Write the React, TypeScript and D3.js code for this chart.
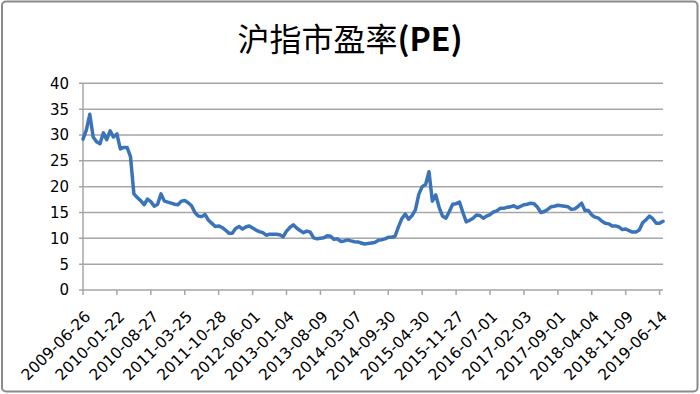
import React from "react";
import * as d3 from "d3";

const WIDTH = 700;
const HEIGHT = 394;

const title = "沪指市盈率";
const titleSuffix = "(PE)";

// weekly PE of the Shanghai index, one value every ~3 weeks
const peValues = [
  29.2, 31, 34.0, 29.6, 28.7, 28.3, 30.4, 29.1, 30.8, 29.6,
  30.2, 27.3, 27.6, 27.6, 25.8, 18.6, 17.9, 17.3, 16.5, 17.6,
  17.1, 16.2, 16.6, 18.6, 17.2, 17.0, 16.8, 16.6, 16.5, 17.2,
  17.3, 16.9, 16.3, 15.0, 14.3, 14.2, 14.6, 13.5, 12.9, 12.3,
  12.4, 12.1, 11.6, 11.0, 11.0, 11.9, 12.3, 11.8, 12.2, 12.4,
  12.0, 11.6, 11.3, 11.1, 10.6, 10.8, 10.8, 10.8, 10.7, 10.3,
  11.4, 12.1, 12.6, 12.0, 11.5, 11.1, 11.4, 11.2, 10.1, 9.9,
  10.0, 10.1, 10.5, 10.4, 9.8, 9.9, 9.4, 9.5, 9.7, 9.5,
  9.35, 9.3, 9.1, 8.9, 9.0, 9.1, 9.2, 9.6, 9.7, 9.9,
  10.2, 10.2, 10.4, 12.2, 13.8, 14.7, 13.7, 14.4, 15.5, 18.5,
  20.0, 20.4, 22.9, 17.2, 18.4, 16.0, 14.3, 13.9, 15.2, 16.6,
  16.7, 17.0, 15.0, 13.2, 13.5, 13.9, 14.5, 14.4, 13.9, 14.3,
  14.6, 15.1, 15.3, 15.8, 15.8, 16.0, 16.1, 16.3, 15.9, 16.2,
  16.5, 16.6, 16.8, 16.7, 16.0, 15.0, 15.2, 15.6, 16.1, 16.2,
  16.4, 16.3, 16.2, 16.1, 15.6, 15.7, 16.2, 16.8, 15.4, 15.4,
  14.5, 14.1, 13.9, 13.3, 12.9, 12.8, 12.4, 12.4, 12.2, 11.7,
  11.8, 11.5, 11.2, 11.2, 11.6, 13.0, 13.6, 14.3, 13.8, 12.9,
  12.9, 13.3,
];

const tickLabels = [
  "2009-06-26", "2010-01-22", "2010-08-27", "2011-03-25", "2011-10-28",
  "2012-06-01", "2013-01-04", "2013-08-09", "2014-03-07", "2014-09-30",
  "2015-04-30", "2015-11-27", "2016-07-01", "2017-02-03", "2017-09-01",
  "2018-04-04", "2018-11-09", "2019-06-14",
];
const labelEvery = 10;

const yTicks = [0, 5, 10, 15, 20, 25, 30, 35, 40];

const margin = { left: 83, right: 37, top: 83.3, bottom: 104 };
const AXIS_FONT = "DejaVu Sans, sans-serif";

export default function App() {
  const x = d3
    .scaleLinear()
    .domain([0, peValues.length - 1])
    .range([margin.left, WIDTH - margin.right]);
  const y = d3
    .scaleLinear()
    .domain([0, 40])
    .range([HEIGHT - margin.bottom, margin.top]);

  const line = d3
    .line<number>()
    .x((d, i) => x(i))
    .y((d) => y(d));

  const x0 = x.range()[0];
  const x1 = x.range()[1];
  const yBase = y(0);

  return (
    <svg
      width={WIDTH}
      height={HEIGHT}
      style={{ position: "absolute", left: 0, top: 0, background: "#fff" }}
    >
      <rect
        x={2}
        y={1.5}
        width={695.5}
        height={390}
        rx={4}
        fill="#fff"
        stroke="#8a8a8a"
        strokeWidth={2}
      />
      <text
        x={WIDTH / 2}
        y={51}
        textAnchor="middle"
        fontSize={32}
        fontFamily="Noto Sans CJK SC, sans-serif"
        fill="#000"
      >
        {title}
        <tspan fontWeight="bold">{titleSuffix}</tspan>
      </text>

      {/* gridlines + y labels */}
      {yTicks.map((t) => (
        <g key={t}>
          <line
            x1={x0 - 4}
            x2={x1}
            y1={y(t)}
            y2={y(t)}
            stroke="#a6a6a6"
            strokeWidth={1.5}
          />
          <text
            x={69}
            y={y(t)}
            dy="0.36em"
            textAnchor="end"
            fontSize={15}
            fontFamily={AXIS_FONT}
            fill="#000"
          >
            {t}
          </text>
        </g>
      ))}
      <line x1={x0} x2={x0} y1={y(40)} y2={yBase} stroke="#a6a6a6" strokeWidth={1.5} />

      {/* x ticks + rotated labels */}
      {tickLabels.map((lab, i) => {
        const tx = x(i * labelEvery);
        return (
          <g key={lab}>
            <line x1={tx} x2={tx} y1={yBase} y2={yBase + 5} stroke="#a6a6a6" strokeWidth={1.5} />
            <text
              transform={`translate(${tx + 5},${yBase + 24}) rotate(-45)`}
              textAnchor="end"
              dominantBaseline="central"
              fontSize={15.5}
              fontFamily={AXIS_FONT}
              fill="#000"
            >
              {lab}
            </text>
          </g>
        );
      })}

      <path
        d={line(peValues) || ""}
        fill="none"
        stroke="#3b73b9"
        strokeWidth={3.5}
        strokeLinejoin="round"
        strokeLinecap="round"
      />
    </svg>
  );
}
